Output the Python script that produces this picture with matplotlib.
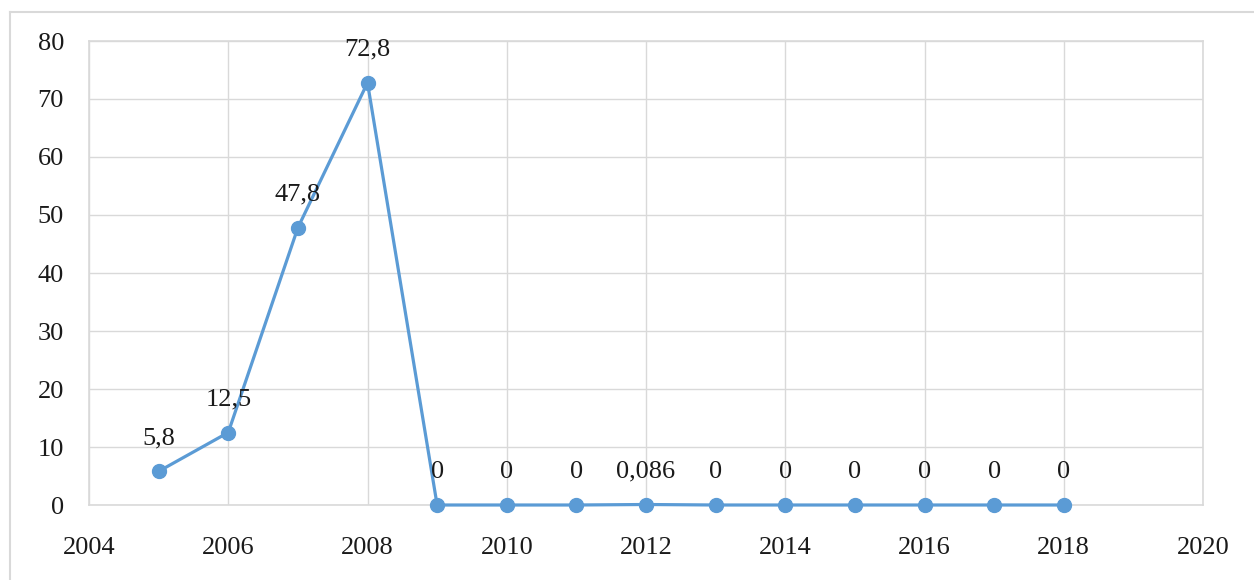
import matplotlib
matplotlib.use("Agg")
import matplotlib.pyplot as plt
from matplotlib.lines import Line2D

years = [2005, 2006, 2007, 2008, 2009, 2010, 2011, 2012, 2013, 2014, 2015, 2016, 2017, 2018]
values = [5.8, 12.5, 47.8, 72.8, 0, 0, 0, 0.086, 0, 0, 0, 0, 0, 0]
x_ticks = [2004, 2006, 2008, 2010, 2012, 2014, 2016, 2018, 2020]
y_ticks = [0, 10, 20, 30, 40, 50, 60, 70, 80]

line_color = "#5B9BD5"
grid_color = "#D9D9D9"
text_color = "#1a1a1a"
fs = 19

plt.rcParams["font.family"] = ["Liberation Serif", "DejaVu Serif"]

fig = plt.figure(figsize=(12.54, 5.8), dpi=100)
ax = fig.add_axes([89 / 1254, 1 - 505 / 580, (1203 - 89) / 1254, (505 - 41) / 580])

ax.plot(years, values, color=line_color, linewidth=2.3, marker="o",
        markersize=10, zorder=3, clip_on=False)

for x, v in zip(years, values):
    label = f"{v:g}".replace(".", ",")
    ax.annotate(label, (x, v), xytext=(0, 24), textcoords="offset points",
                ha="center", va="center", fontsize=fs, color=text_color, zorder=4)

ax.set_xlim(2004, 2020)
ax.set_ylim(0, 80)
ax.set_xticks(x_ticks)
ax.set_yticks(y_ticks)
ax.tick_params(axis="both", length=0, labelsize=fs, labelcolor=text_color)
ax.tick_params(axis="x", pad=23)
ax.tick_params(axis="y", pad=18)
ax.grid(True, color=grid_color, linewidth=1)
ax.set_axisbelow(True)
for s in ax.spines.values():
    s.set_color(grid_color)
    s.set_linewidth(1.2)

# outer chart frame
fig.add_artist(Line2D([10 / 1254, 1.0], [1 - 12 / 580, 1 - 12 / 580],
                      transform=fig.transFigure, color="#D9D9D9", linewidth=1.5))
fig.add_artist(Line2D([10 / 1254, 10 / 1254], [0.0, 1 - 12 / 580],
                      transform=fig.transFigure, color="#D9D9D9", linewidth=1.5))

fig.savefig("out.png", dpi=100)
